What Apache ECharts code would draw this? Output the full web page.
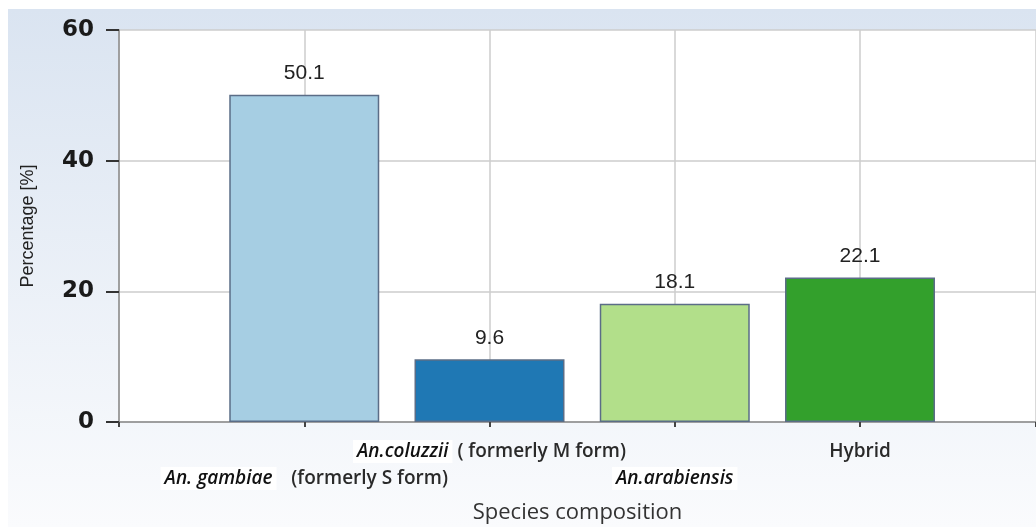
<!DOCTYPE html>
<html>
<head>
<meta charset="utf-8">
<script src="https://cdn.jsdelivr.net/npm/echarts@6/dist/echarts.min.js"></script>
<style>
  html, body { margin: 0; padding: 0; background: #fff; }
  #chart { width: 1036px; height: 527px; }
</style>
</head>
<body>
<div id="chart"></div>
<script>
// species groups, in bar order
const categories = [
  { italic: "An. gambiae", rest: "   (formerly S form)", row: 2 },
  { italic: "An.coluzzii", rest: " ( formerly M form)", row: 1 },
  { italic: "An.arabiensis", rest: "", row: 2 },
  { italic: "", rest: "Hybrid", row: 1 }
];
const percentages = [50.1, 9.6, 18.1, 22.1];
const barColors = ["#a6cee3", "#1f78b4", "#b2df8a", "#33a02c"];
const yTicks = [0, 20, 40, 60];

const chart = echarts.init(document.getElementById("chart"));

const barData = percentages.map((v, i) => ({
  value: [i + 1, v],
  itemStyle: { color: barColors[i] }
}));

const option = {
  animation: false,
  graphic: [
    {
      type: "rect",
      shape: { x: 8, y: 9, width: 1028, height: 518 },
      style: {
        fill: {
          type: "linear", x: 0, y: 0, x2: 0, y2: 1,
          colorStops: [
            { offset: 0, color: "#dae4f1" },
            { offset: 1, color: "#fafbfd" }
          ]
        }
      },
      z: -10
    }
  ],
  grid: {
    left: 119, top: 30, right: 0, bottom: 105,
    outerBoundsMode: "none",
    containLabel: false,
    show: true, backgroundColor: "#fff", borderWidth: 0
  },
  xAxis: {
    type: "value",
    min: 0,
    max: 4.95,
    interval: 1,
    name: "Species composition",
    nameLocation: "middle",
    nameGap: 80,
    nameTextStyle: { fontFamily: "Open Sans", fontSize: 22, color: "#333" },
    axisLine: { show: true, lineStyle: { color: "#8c8c8c", width: 1.5 } },
    axisTick: {
      show: true, length: 5,
      lineStyle: { color: "#444", width: 2 }
    },
    splitLine: { show: true, lineStyle: { color: "#cccccc", width: 1.5 } },
    axisLabel: {
      margin: 16,
      lineHeight: 27,
      formatter: function (v) {
        const c = categories[Math.round(v) - 1];
        if (!c || Math.abs(v - Math.round(v)) > 1e-6) return "";
        let s = "";
        if (c.italic) s += "{i|" + c.italic + "}";
        if (c.rest) s += "{n|" + c.rest + "}";
        return c.row === 2 ? "{n| }\n" + s : s;
      },
      rich: {
        i: {
          fontFamily: "Open Sans", fontStyle: "italic", fontWeight: 600,
          fontSize: 19, color: "#111", lineHeight: 27,
          backgroundColor: "#fff", padding: [2, 4]
        },
        n: {
          fontFamily: "Open Sans", fontWeight: 600,
          fontSize: 19, color: "#2a2a2a", lineHeight: 27
        }
      }
    }
  },
  yAxis: {
    type: "value",
    min: yTicks[0],
    max: yTicks[yTicks.length - 1],
    interval: 20,
    name: "Percentage [%]",
    nameLocation: "middle",
    nameGap: 82,
    nameTextStyle: { fontFamily: "Liberation Sans", fontSize: 18, color: "#222" },
    axisLine: { show: true, lineStyle: { color: "#8c8c8c", width: 1.5 } },
    axisTick: {
      show: true, length: 13,
      lineStyle: { color: "#333", width: 2 }
    },
    splitLine: { show: true, lineStyle: { color: "#cccccc", width: 1.5 } },
    axisLabel: {
      margin: 25,
      fontFamily: "DejaVu Sans",
      fontWeight: "bold",
      fontSize: 23,
      color: "#1a1a1a"
    }
  },
  series: [
    {
      type: "bar",
      data: barData,
      barWidth: 150,
      itemStyle: { borderColor: "#5b6d87", borderWidth: 1.5 },
      label: {
        show: true,
        position: "top",
        distance: 11,
        fontFamily: "Liberation Sans",
        fontSize: 21,
        color: "#222",
        formatter: p => p.value[1].toFixed(1)
      }
    }
  ]
};

chart.setOption(option);
</script>
</body>
</html>
